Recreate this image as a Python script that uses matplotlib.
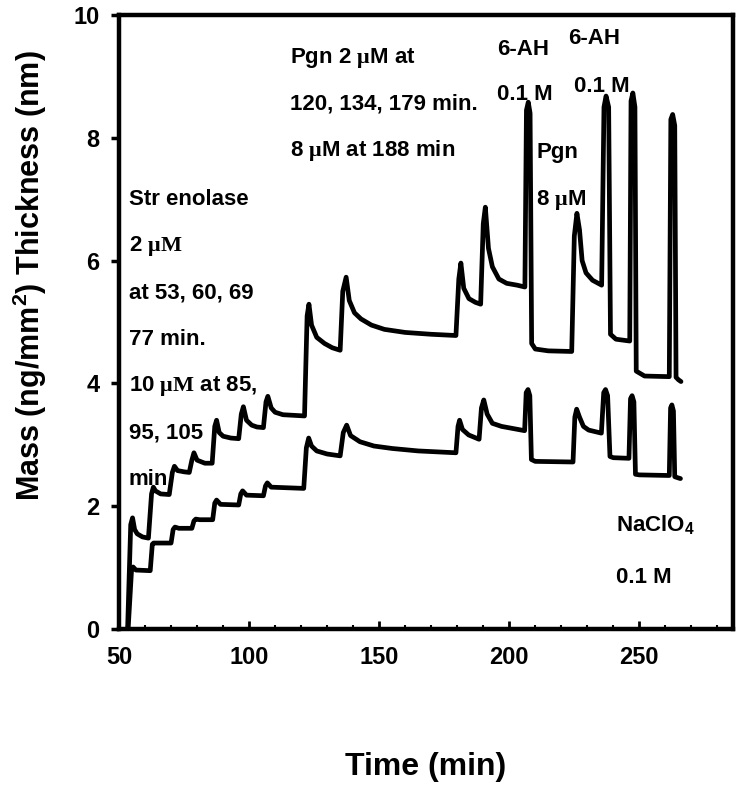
import matplotlib
matplotlib.use("Agg")
import matplotlib.pyplot as plt
import numpy as np

# upper trace (time in min, mass)
t_upper = [53.3, 54.5, 55.2, 56, 57, 59, 61.3,
           62.5, 63.2, 64, 66, 69.3,
           70.5, 71.3, 72.5, 75, 77,
           78, 78.8, 80, 83, 85.8,
           86.8, 87.5, 88.5, 90, 93, 96,
           97, 97.8, 99, 101, 103, 105.5,
           106.5, 107.2, 108.5, 110, 113, 121.3,
           122.3, 123, 124, 126, 129, 132, 135,
           136, 137.3, 138.5, 140.5, 143, 147, 152, 160, 170, 179.5,
           180.6, 181.4, 182.5, 184.5, 187, 189,
           190, 190.8, 192, 193.5, 196, 199, 203, 206,
           206.6, 207.3, 208.0, 208.6, 210, 215, 224,
           225, 226, 227, 228, 229.5, 232, 235.5,
           236.4, 237.2, 238.2, 238.9, 241, 246.3,
           246.8, 247.5, 248.3, 248.8, 252, 261.5,
           262.1, 262.8, 263.6, 264.1, 265, 266]
m_upper = [0.0, 1.7, 1.81, 1.62, 1.55, 1.50, 1.48,
           2.2, 2.31, 2.25, 2.2, 2.19,
           2.55, 2.65, 2.58, 2.56, 2.55,
           2.75, 2.87, 2.75, 2.70, 2.70,
           3.30, 3.40, 3.2, 3.14, 3.11, 3.10,
           3.5, 3.62, 3.4, 3.32, 3.29, 3.28,
           3.7, 3.79, 3.6, 3.53, 3.49, 3.47,
           5.1, 5.29, 4.95, 4.75, 4.65, 4.58, 4.54,
           5.5, 5.73, 5.35, 5.15, 5.05, 4.95, 4.88, 4.83, 4.8, 4.78,
           5.7, 5.96, 5.55, 5.38, 5.32, 5.29,
           6.6, 6.87, 6.2, 5.9, 5.7, 5.63, 5.6, 5.57,
           8.45, 8.58, 8.4, 4.65, 4.56, 4.53, 4.52,
           6.4, 6.77, 6.5, 6.0, 5.8, 5.68, 5.6,
           8.5, 8.68, 8.5, 4.8, 4.72, 4.69,
           8.6, 8.73, 8.5, 4.2, 4.12, 4.11,
           8.3, 8.38, 8.2, 4.1, 4.06, 4.03]

# lower trace
t_lower = [53.5, 54.8, 55.4, 56.5, 62,
           62.8, 63.3, 70,
           70.8, 71.5, 73, 78,
           78.8, 79.5, 81, 86,
           86.8, 87.5, 89, 96,
           96.8, 97.5, 99, 105.5,
           106.3, 107, 108.5, 121,
           122, 122.9, 124, 126, 130, 135,
           136.2, 137.5, 139, 142.6, 148, 155, 165, 179.5,
           180.3, 180.9, 182, 184.4, 188.4,
           189.3, 190.2, 191.5, 193.5, 197, 205.9,
           206.5, 207.2, 207.9, 208.5, 210, 224.5,
           225.2, 225.9, 227, 228.5, 230.5, 235.4,
           236.3, 237, 237.8, 238.7, 240, 246,
           246.6, 247.2, 247.9, 248.5, 250, 261.5,
           262, 262.5, 263.1, 263.6, 265, 265.8]
m_lower = [0.0, 0.95, 1.01, 0.96, 0.95,
           1.38, 1.40, 1.40,
           1.62, 1.66, 1.64, 1.64,
           1.76, 1.79, 1.78, 1.78,
           2.05, 2.10, 2.03, 2.02,
           2.2, 2.25, 2.18, 2.17,
           2.33, 2.38, 2.31, 2.29,
           2.95, 3.11, 2.98, 2.9, 2.85, 2.82,
           3.2, 3.32, 3.15, 3.05, 2.98, 2.94, 2.9, 2.87,
           3.3, 3.40, 3.25, 3.16, 3.09,
           3.6, 3.73, 3.5, 3.35, 3.3, 3.23,
           3.85, 3.9, 3.8, 2.76, 2.73, 2.72,
           3.45, 3.58, 3.45, 3.3, 3.24, 3.19,
           3.85, 3.9, 3.8, 2.81, 2.79, 2.78,
           3.75, 3.8, 3.7, 2.52, 2.51, 2.50,
           3.6, 3.65, 3.55, 2.48, 2.46, 2.45]

# annotations: text, x (min), y (mass, cap centre)
notes = [
    (r"Pgn 2 $\mathrm{\mu}$M at", 115.6, 9.35),
    ("120, 134, 179 min.", 115.6, 8.59),
    (r"8 $\mathrm{\mu}$M at 188 min", 115.6, 7.83),
    ("6-AH", 195.4, 9.48),
    ("0.1 M", 195.4, 8.74),
    ("6-AH", 222.7, 9.66),
    ("0.1 M", 224.8, 8.88),
    ("Pgn", 210.4, 7.80),
    (r"8 $\mathrm{\mu}$M", 210.4, 7.04),
    ("Str enolase", 53.7, 7.04),
    (r"2 $\mathrm{\mu M}$", 53.7, 6.28),
    ("at 53, 60, 69", 53.7, 5.52),
    ("77 min.", 53.7, 4.76),
    (r"10 $\mathrm{\mu M}$ at 85,", 53.7, 4.00),
    ("95, 105", 53.7, 3.24),
    ("min", 53.7, 2.48),
    (r"NaClO$_\mathbf{4}$", 241.2, 1.72),
    ("0.1 M", 241.2, 0.88),
]

plt.rcParams['font.family'] = ['Liberation Sans', 'DejaVu Sans']
plt.rcParams['font.weight'] = 'bold'
plt.rcParams['mathtext.fontset'] = 'custom'
plt.rcParams['mathtext.rm'] = 'Liberation Serif'
plt.rcParams['mathtext.bf'] = 'Liberation Sans:bold'
plt.rcParams['mathtext.it'] = 'Liberation Sans:bold'

fig = plt.figure(figsize=(7.42, 7.90), dpi=100)
ax = fig.add_axes([0.1604, 0.2038, 0.8275, 0.7772])

ax.plot(t_upper, m_upper, color='black', lw=3.4, solid_joinstyle='round', solid_capstyle='round')
ax.plot(t_lower, m_lower, color='black', lw=3.4, solid_joinstyle='round', solid_capstyle='round')

for txt, x, y in notes:
    ax.text(x, y - 0.13, txt, fontsize=16, fontweight='bold', ha='left', va='baseline')

ax.set_xlim(50, 286)
ax.set_ylim(0, 10)
ax.set_xticks(np.arange(50, 251, 50))
ax.set_xticks(np.arange(60, 281, 10), minor=True)
ax.set_yticks(np.arange(0, 11, 2))

for s in ax.spines.values():
    s.set_linewidth(3.2)
ax.tick_params(axis='x', which='major', direction='in', length=6, width=2, pad=12, labelsize=17)
ax.tick_params(axis='x', which='minor', direction='in', length=3, width=1.5)
ax.tick_params(axis='y', which='major', direction='out', length=6, width=2.5, pad=8, labelsize=17)
for lab in ax.get_xticklabels() + ax.get_yticklabels():
    lab.set_fontweight('bold')

fig.text(426/742, 1 - 767/790, "Time (min)", fontsize=23, fontweight='bold', ha='center', va='center')
fig.text(30/742, 1 - 276/790, r"Mass (ng/mm$^\mathbf{2}$) Thickness (nm)", fontsize=22,
         fontweight='bold', rotation=90, ha='center', va='center')

plt.savefig("out.png", dpi=100)
